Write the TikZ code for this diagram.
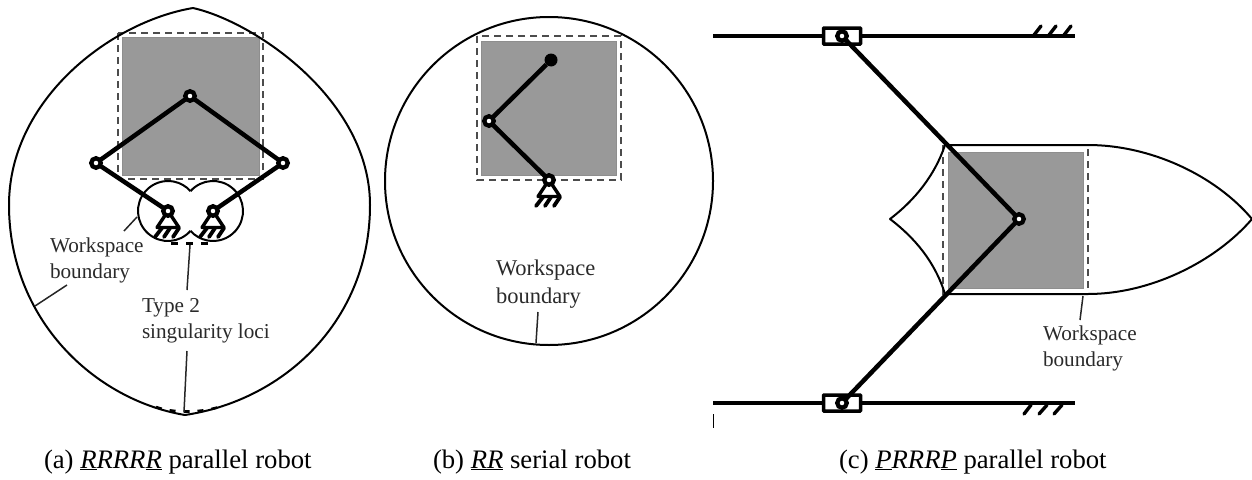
\documentclass[tikz,border=0pt]{standalone}
\usepackage{fontspec}
\setmainfont{Liberation Serif}
\definecolor{txt}{HTML}{2A2A2A}
\definecolor{wsgray}{HTML}{999999}
\definecolor{wsedge}{HTML}{8E8E8E}
\tikzset{
  x=1pt,y=-1pt,
  wsline/.style={line width=2pt,black,line join=round},
  dashbox/.style={draw=black!70,line width=2pt,dash pattern=on 7pt off 5pt},
  grayarea/.style={fill=wsgray,draw=wsedge,line width=1pt},
  linkbar/.style={line width=4.5pt,black},
  leader/.style={line width=1.5pt,black!85},
  lbl/.style={font=\fontsize{21.2}{26}\selectfont,text=txt,inner sep=0pt,outer sep=0pt,anchor=base west},
  lblb/.style={font=\fontsize{22.5}{26}\selectfont,text=txt,inner sep=0pt,outer sep=0pt,anchor=base west},
  captext/.style={font=\fontsize{26.7}{30}\selectfont,text=black,inner sep=0pt,outer sep=0pt,anchor=base west},
  jointpin/.style={circle,draw=black,fill=white,line width=4.3pt,minimum size=9.5pt,inner sep=0pt,outer sep=0pt},
  endpin/.style={circle,fill=black,minimum size=13pt,inner sep=0pt,outer sep=0pt},
  railbar/.style={line width=4.5pt,black},
  groundsym/.pic={
    \draw[line width=3.4pt,black,fill=white,line join=round] (0,0) -- (-11,16.5) -- (11,16.5) -- cycle;
    \draw[line width=3.8pt,black,line cap=round] (-6,17) -- (-13,26) (2,17) -- (-4,26) (11,17) -- (5,26);
  },
  hatchup/.pic={
    \draw[line width=3.4pt,black,line cap=round] (0,0) -- (7,-9) (15,0) -- (22,-9) (30,0) -- (37,-9);
  },
  hatchdown/.pic={
    \draw[line width=3.4pt,black,line cap=round] (7,0) -- (0,9) (23,0) -- (15,9) (38,0) -- (30,9);
  },
  sliderbox/.style={draw=black,fill=white,line width=3.5pt,rounded corners=0.6pt,minimum width=37pt,minimum height=16pt,inner sep=0pt},
}
\begin{document}
\begin{tikzpicture}
\useasboundingbox (0,0) rectangle (1252,479);
%% ---------- (a)
\filldraw[grayarea] (122,37) rectangle (259,175);
\draw[dashbox] (118,33) rectangle (263,179);
\draw[wsline] (193,8) .. controls (110,22) and (9,100) .. (9,205)
  .. controls (9,320) and (95,400) .. (185,415)
  .. controls (285,400) and (370,320) .. (370,205)
  .. controls (370,100) and (255,22) .. (193,8);
\draw[wsline] (168,211) ++(41.4:30) arc[start angle=41.4,end angle=318.6,radius=30];
\draw[wsline] (213,211) ++(221.4:30) arc[start angle=221.4,end angle=498.6,radius=30];
\draw[black,line width=2.4pt,dash pattern=on 7pt off 8pt] (171,243.5) -- (208,243.5);
\draw[black,line width=2.6pt,dash pattern=on 6pt off 8pt] (156,407) .. controls (172,413) and (200,413) .. (219,407);
\pic at (168,211) {groundsym};
\pic at (213,211) {groundsym};
\node[jointpin] (a1) at (190,96) {};
\node[jointpin] (a2) at (96,163) {};
\node[jointpin] (a3) at (283,163) {};
\node[jointpin] (a4) at (168,211) {};
\node[jointpin] (a5) at (213,211) {};
\draw[linkbar] (a1) -- (a2);
\draw[linkbar] (a1) -- (a3);
\draw[linkbar] (a2) -- (a4);
\draw[linkbar] (a3) -- (a5);
\node[lbl] (t1) at (50,252) {Workspace};
\node[lbl] (t2) at (50,278) {boundary};
\node[lbl] (t3) at (142,312) {Type 2};
\node[lbl] (t4) at (142,338) {singularity loci};
\coordinate (l1a) at (137,217); \coordinate (l1b) at (124,231);
\coordinate (l2a) at (67,285); \coordinate (l2b) at (35,306);
\coordinate (l3a) at (190,245); \coordinate (l3b) at (187,290);
\coordinate (l4a) at (187,351); \coordinate (l4b) at (184,412);
\draw[leader] (l1a) -- (l1b);
\draw[leader] (l2a) -- (l2b);
\draw[leader] (l3a) -- (l3b);
\draw[leader] (l4a) -- (l4b);
\node[captext] (c1) at (44,468) {(a) \underline{\textit{R}}\textit{RRR}\underline{\textit{R}} parallel robot};
%% ---------- (b)
\filldraw[grayarea] (481,41) rectangle (616,175);
\draw[dashbox] (477,36) rectangle (621,180);
\draw[wsline] (549,181) circle[radius=164];
\pic at (549,180) {groundsym};
\node[endpin] (b1) at (551,60) {};
\node[jointpin] (b2) at (489,121) {};
\node[jointpin] (b3) at (549,180) {};
\draw[linkbar] (b1) -- (b2);
\draw[linkbar] (b2) -- (b3);
\node[lblb] (t5) at (496,275) {Workspace};
\node[lblb] (t6) at (496,303) {boundary};
\coordinate (l5a) at (538,312); \coordinate (l5b) at (536,343);
\draw[leader] (l5a) -- (l5b);
\node[captext] (c2) at (433,468) {(b) \underline{\textit{RR}} serial robot};
%% ---------- (c)
\filldraw[grayarea] (948,152) rectangle (1083,288);
\draw[dashbox] (943,145) rectangle (1088,294);
\draw[wsline] (945,145) -- (1088,145) .. controls (1150,145) and (1215,175) .. (1252,219)
  .. controls (1215,262) and (1150,294) .. (1088,294) -- (945,294)
  .. controls (935,262) and (915,238) .. (890,219)
  .. controls (915,200) and (935,175) .. (945,145);
\draw[railbar] (713,36) -- (1075,36);
\draw[railbar] (713,403) -- (1075,403);
\pic at (1034,35) {hatchup};
\pic at (1024,405) {hatchdown};
\node[sliderbox] (s1) at (842,36) {};
\node[sliderbox] (s2) at (842,403) {};
\node[jointpin] (c3) at (1019,219) {};
\node[jointpin] (s1p) at (842,36) {};
\node[jointpin] (s2p) at (842,403) {};
\draw[linkbar] (s1p) -- (c3);
\draw[linkbar] (s2p) -- (c3);
\node[lbl] (t7) at (1043,340) {Workspace};
\node[lbl] (t8) at (1043,366) {boundary};
\coordinate (l6a) at (1083,296); \coordinate (l6b) at (1080,320);
\draw[leader] (l6a) -- (l6b);
\coordinate (m1) at (713,414); \coordinate (m2) at (713,428);
\draw[black,line width=1pt] (m1) -- (m2);
\node[captext] (c4) at (839,468) {(c) \underline{\textit{P}}\textit{RRR}\underline{\textit{P}} parallel robot};
\end{tikzpicture}
\end{document}
